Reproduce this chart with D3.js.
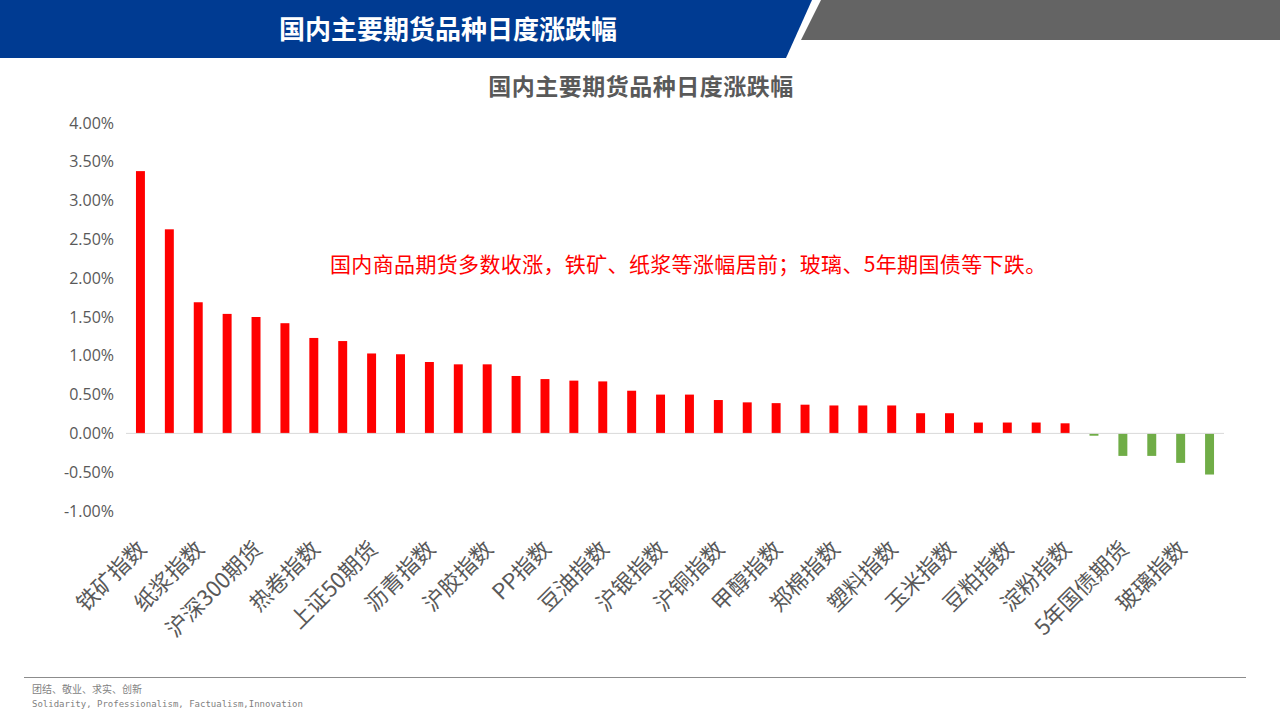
<!DOCTYPE html>
<html>
<head>
<meta charset="utf-8">
<script src="https://cdn.jsdelivr.net/npm/d3@7/dist/d3.min.js"></script>
<style>
  body { margin: 0; background: #fff; }
  svg { display: block; }
</style>
</head>
<body>
<div id="chart"></div>
<script>
// categories, in the order they are drawn (only every other one is labelled)
var categories = [
  "铁矿指数", "焦炭指数", "纸浆指数", "螺纹指数", "沪深300期货", "中证500期货",
  "热卷指数", "焦煤指数", "上证50期货", "沪镍指数", "沥青指数", "燃油指数",
  "沪胶指数", "PTA指数", "PP指数", "菜油指数", "豆油指数", "棕榈指数",
  "沪银指数", "沪金指数", "沪铜指数", "沪铝指数", "甲醇指数", "沪锌指数",
  "郑棉指数", "白糖指数", "塑料指数", "PVC指数", "玉米指数", "豆一指数",
  "豆粕指数", "菜粕指数", "淀粉指数", "鸡蛋指数", "5年国债期货", "10年国债期货",
  "玻璃指数", "苹果指数"
];

// daily change, in %
var changes = [
  3.38, 2.63, 1.69, 1.54, 1.50, 1.42,
  1.23, 1.19, 1.03, 1.02, 0.92, 0.89,
  0.89, 0.74, 0.70, 0.68, 0.67, 0.55,
  0.50, 0.50, 0.43, 0.40, 0.39, 0.37,
  0.36, 0.36, 0.36, 0.26, 0.26, 0.14,
  0.14, 0.14, 0.13, -0.03, -0.29, -0.29,
  -0.38, -0.53
];

var yTicks = [-1.0, -0.5, 0, 0.5, 1.0, 1.5, 2.0, 2.5, 3.0, 3.5, 4.0];

var headerTitle = "国内主要期货品种日度涨跌幅";
var chartTitle = "国内主要期货品种日度涨跌幅";
var note = "国内商品期货多数收涨，铁矿、纸浆等涨幅居前；玻璃、5年期国债等下跌。";
var footerCn = "团结、敬业、求实、创新";
var footerEn = "Solidarity, Professionalism, Factualism,Innovation";

var svgWidth = 1280;
var svgHeight = 720;

var svg = d3.select("#chart")
  .append("svg")
  .attr("width", svgWidth)
  .attr("height", svgHeight);

// header band
svg.append("polygon")
  .attr("points", "0,0 812,0 786,58 0,58")
  .attr("fill", "#003b92");
svg.append("polygon")
  .attr("points", "821,0 1280,0 1280,40 801,40")
  .attr("fill", "#646464");
svg.append("text")
  .attr("x", 448)
  .attr("y", 39)
  .attr("text-anchor", "middle")
  .attr("font-family", "'Noto Sans CJK SC', sans-serif")
  .attr("font-weight", "bold")
  .attr("font-size", 26)
  .attr("fill", "#fff")
  .text(headerTitle);

// chart title
svg.append("text")
  .attr("x", 641)
  .attr("y", 95)
  .attr("text-anchor", "middle")
  .attr("font-family", "'Noto Sans CJK SC', sans-serif")
  .attr("font-weight", "bold")
  .attr("font-size", 23)
  .attr("letter-spacing", 0.5)
  .attr("fill", "#595959")
  .text(chartTitle);

var x = d3.scaleBand()
  .domain(categories)
  .range([126, 1224])
  .paddingInner(0.69)
  .paddingOuter(0.345);

var y = d3.scaleLinear()
  .domain([-1.0, 4.0])
  .range([511, 123]);

// y axis labels only (no axis line / gridlines)
var yAxis = d3.axisLeft(y)
  .tickValues(yTicks)
  .tickSize(0)
  .tickPadding(0)
  .tickFormat(d => d.toFixed(2) + "%");

var yg = svg.append("g")
  .attr("transform", "translate(114,0)")
  .call(yAxis);
yg.select(".domain").remove();
yg.selectAll("text")
  .attr("font-family", "'Open Sans', sans-serif")
  .attr("font-size", 16)
  .attr("fill", "#595959");

// bars
svg.append("g")
  .selectAll("rect")
  .data(changes)
  .enter()
  .append("rect")
  .attr("x", (d, i) => x(categories[i]))
  .attr("y", d => y(Math.max(0, d)))
  .attr("width", x.bandwidth())
  .attr("height", d => Math.abs(y(d) - y(0)))
  .attr("fill", d => d >= 0 ? "#ff0000" : "#70ad47");

// zero line
svg.append("line")
  .attr("x1", 126)
  .attr("x2", 1224)
  .attr("y1", y(0))
  .attr("y2", y(0))
  .attr("stroke", "#d9d9d9")
  .attr("stroke-width", 1);

// category labels, every other one, rotated
var xAxis = d3.axisBottom(x)
  .tickValues(categories.filter((d, i) => i % 2 === 0))
  .tickSize(0)
  .tickPadding(0);

var xg = svg.append("g")
  .attr("transform", "translate(0,545)")
  .call(xAxis);
xg.select(".domain").remove();
xg.selectAll("text")
  .attr("font-family", "'Noto Sans CJK SC', sans-serif")
  .attr("font-size", 22)
  .attr("fill", "#595959")
  .attr("text-anchor", "end")
  .attr("dy", "0.35em")
  .attr("y", 0)
  .attr("transform", "translate(2,0) rotate(-45)");

// annotation
svg.append("text")
  .attr("x", 330)
  .attr("y", 272)
  .attr("font-family", "'Noto Sans CJK SC', sans-serif")
  .attr("font-size", 21)
  .attr("letter-spacing", 0.35)
  .attr("fill", "#ff0000")
  .text(note);

// footer
svg.append("line")
  .attr("x1", 24)
  .attr("x2", 1246)
  .attr("y1", 677.5)
  .attr("y2", 677.5)
  .attr("stroke", "#8c8c8c")
  .attr("stroke-width", 1);
svg.append("text")
  .attr("x", 32)
  .attr("y", 693)
  .attr("font-family", "'Noto Sans CJK SC', sans-serif")
  .attr("font-size", 10)
  .attr("fill", "#7f7f7f")
  .text(footerCn);
svg.append("text")
  .attr("x", 32)
  .attr("y", 707)
  .attr("font-family", "'DejaVu Sans Mono', monospace")
  .attr("font-size", 9)
  .attr("fill", "#7f7f7f")
  .text(footerEn);
</script>
</body>
</html>
